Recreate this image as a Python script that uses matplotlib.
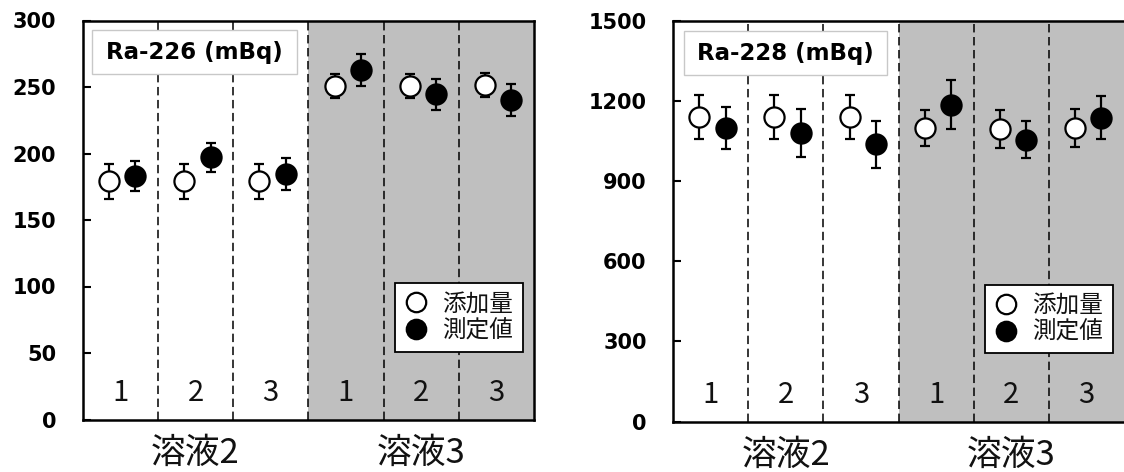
import numpy as np
import matplotlib
matplotlib.use("Agg")
import matplotlib.pyplot as plt
from matplotlib.patches import Rectangle
from matplotlib.lines import Line2D
import matplotlib.transforms as mtransforms

# ---- data ----
sample_labels = ["1", "2", "3", "1", "2", "3"]
group_labels = ["溶液2", "溶液3"]
legend_labels = ["添加量", "測定値"]

ra226_added = [179, 179, 179, 250.5, 250.5, 251.5]
ra226_added_err = [13, 13, 13, 9, 9, 9]
ra226_measured = [183, 197, 184.5, 262.5, 244.5, 240]
ra226_measured_err = [11, 11, 12, 12, 11.5, 12]

ra228_added = [1140, 1140, 1140, 1100, 1095, 1100]
ra228_added_err = [83, 83, 83, 68, 70, 71]
ra228_measured = [1100, 1080, 1038, 1187, 1056, 1138]
ra228_measured_err = [78, 90, 88, 93, 70, 81]

SHADE = "#bfbfbf"
CJK = ["Noto Sans CJK JP", "DejaVu Sans"]
BOLD = "DejaVu Sans"

W, H = 1124, 472
fig = plt.figure(figsize=(W / 100, H / 100), dpi=100)


def panel(ax, added, added_err, measured, measured_err, ymax, ystep, title,
          box_x0, box_x1):
    ax.set_xlim(0, 6)
    ax.set_ylim(0, ymax)
    ax.axvspan(3, 6, color=SHADE, lw=0, zorder=0)
    for b in range(1, 6):
        ax.axvline(b, color="black", lw=1.1, ls=(0, (5.5, 3)), zorder=1)

    x = np.arange(6)
    common = dict(fmt="o", ms=14.5, mec="black", mew=1.6, ecolor="black",
                  elinewidth=1.6, capsize=3.6, capthick=1.9)
    ax.errorbar(x + 0.35, added, yerr=added_err, mfc="white", zorder=3, **common)
    ax.errorbar(x + 0.70, measured, yerr=measured_err, mfc="black", zorder=3, **common)

    trans = mtransforms.blended_transform_factory(ax.transData, ax.transAxes)
    for i, lab in enumerate(sample_labels):
        ax.text(i + 0.5, 0.046, lab, transform=trans, ha="center", va="baseline",
                fontsize=21, family=CJK, color="#111111", zorder=5)
    for gx, lab in zip([1.5, 4.5], group_labels):
        ax.text(gx, -0.108, lab, transform=trans, ha="center", va="baseline",
                fontsize=25, family=CJK, color="#111111", clip_on=False)

    # title box
    ax.add_patch(Rectangle((box_x0, 0.865), box_x1 - box_x0, 0.11,
                           transform=ax.transAxes, fc="white", ec="#c8c8c8",
                           lw=1.0, zorder=4))
    ax.text((box_x0 + box_x1) / 2, 0.92, title, transform=ax.transAxes,
            ha="center", va="center", fontsize=16.5, fontweight="bold",
            family=BOLD, zorder=5)

    # axes styling
    ax.set_xticks([])
    ax.set_yticks(np.arange(0, ymax + 1, ystep))
    ax.tick_params(axis="y", direction="in", length=6, width=1.5, pad=19,
                   labelsize=15)
    for t in ax.get_yticklabels():
        t.set_fontweight("bold")
        t.set_family(BOLD)
    for s in ax.spines.values():
        s.set_linewidth(1.8)
        s.set_zorder(6)

    handles = [
        Line2D([], [], ls="none", marker="o", ms=14, mfc="white", mec="black", mew=1.6),
        Line2D([], [], ls="none", marker="o", ms=14, mfc="black", mec="black", mew=1.6),
    ]
    leg = ax.legend(handles, legend_labels, loc="lower right",
                    bbox_to_anchor=(0.975, 0.170), borderaxespad=0,
                    prop={"family": CJK, "size": 17}, frameon=True,
                    fancybox=False, edgecolor="black", framealpha=1,
                    borderpad=0.4, handlelength=0.95, handletextpad=0.65,
                    labelspacing=0.17)
    leg.get_frame().set_linewidth(1.3)
    leg.set_zorder(7)
    for t in leg.get_texts():
        t.set_color("#111111")


axL = fig.add_axes([82.7 / W, (H - 419.5) / H, 451.3 / W, 399 / H])
panel(axL, ra226_added, ra226_added_err, ra226_measured, ra226_measured_err,
      300, 50, "Ra-226 (mBq)", 0.021, 0.4755)

axR = fig.add_axes([673 / W, (H - 421.5) / H, 451 / W, 400.5 / H])
panel(axR, ra228_added, ra228_added_err, ra228_measured, ra228_measured_err,
      1500, 300, "Ra-228 (mBq)", 0.024, 0.474)
axR.spines["right"].set_visible(False)

fig.savefig("out.png", dpi=100)
